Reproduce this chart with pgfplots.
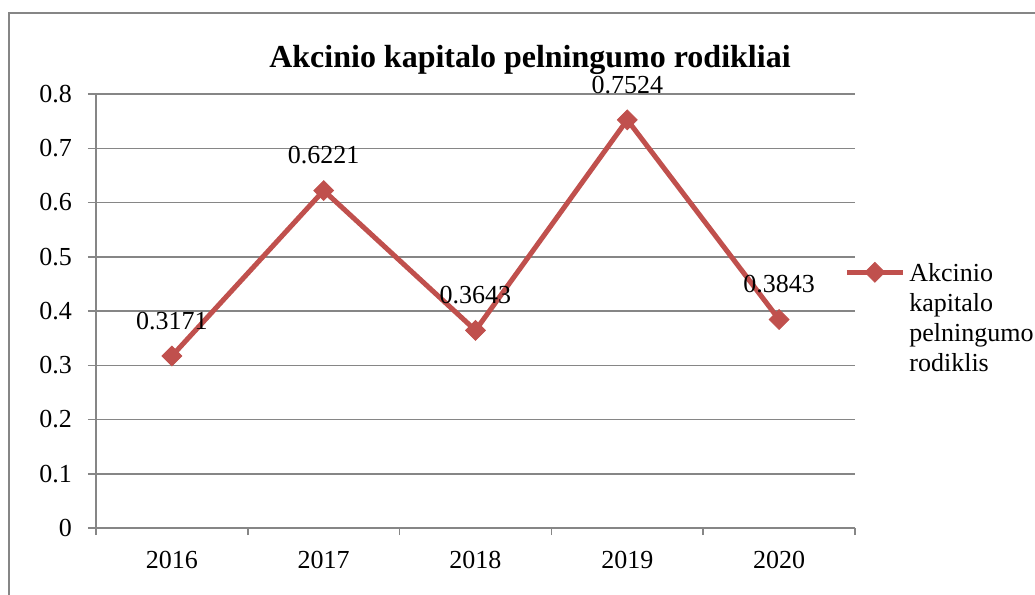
\documentclass[border=0pt]{standalone}
\usepackage{fontspec}
\setmainfont{Liberation Serif}
\usepackage{pgfplots}
\pgfplotsset{compat=1.18}
\definecolor{exred}{HTML}{C0504D}
\definecolor{exgrid}{HTML}{868686}
\begin{document}
\fontsize{13pt}{15pt}\selectfont
\begin{tikzpicture}
\useasboundingbox (0pt,0pt) rectangle (517.5pt,-297.5pt);
\draw[exgrid, line width=0.6pt] (4.5pt,-297.5pt) -- (4.5pt,-6.5pt) -- (517.5pt,-6.5pt);
\begin{axis}[
  at={(48pt,-264pt)}, anchor=south west,
  width=379.5pt, height=217pt, scale only axis,
  xmin=0.5, xmax=5.5, ymin=0, ymax=0.8,
  axis x line*=bottom, axis y line*=left,
  axis line style={exgrid, line width=0.75pt},
  xtick={1,2,3,4,5},
  xticklabels={2016,2017,2018,2019,2020},
  minor xtick={0.5,1.5,2.5,3.5,4.5,5.5},
  ytick={0,0.1,...,0.8},
  ymajorgrids,
  grid style={exgrid, line width=0.75pt},
  tick style={exgrid, line width=0.75pt},
  tick align=outside,
  every major x tick/.append style={draw=none},
  minor tick length=3.5pt,
  major tick length=4pt,
  /pgf/number format/assume math mode=true,
  yticklabel style={/pgf/number format/fixed, /pgf/number format/precision=1, font=\fontsize{13pt}{15pt}\selectfont, xshift=-3.5pt},
  xticklabel style={font=\fontsize{13pt}{15pt}\selectfont, yshift=-3pt},
  title={Akcinio kapitalo pelningumo rodikliai},
  title style={at={(0.5718,1.0507)}, anchor=center, font=\bfseries\fontsize{16pt}{19pt}\selectfont},
  legend style={draw=none, fill=none, at={(0.9855,0.62)}, anchor=north west, inner sep=0pt,
    font=\fontsize{13pt}{15pt}\selectfont, cells={align=left, anchor=west}},
  legend image code/.code={\draw[mark repeat=2,mark phase=2,#1] plot coordinates {(0pt,23.5pt) (14pt,23.5pt) (28pt,23.5pt)};},
  clip=false,
]
\addplot[exred, line width=2.5pt, mark=square*, mark size=3.5pt,
  mark options={rotate=45, line width=0.4pt, fill=exred},
  nodes near coords, point meta=y,
  nodes near coords style={black, anchor=center, yshift=17.5pt, font=\fontsize{13pt}{15pt}\selectfont,
    /pgf/number format/fixed, /pgf/number format/precision=4, /pgf/number format/fixed zerofill}]
  coordinates {(1,0.3171) (2,0.6221) (3,0.3643) (4,0.7524) (5,0.3843)};
\addlegendentry{Akcinio\\kapitalo\\pelningumo\\rodiklis}
\end{axis}
\end{tikzpicture}
\end{document}
